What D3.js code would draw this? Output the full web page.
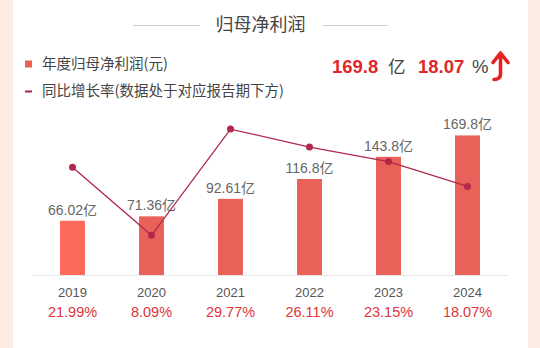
<!DOCTYPE html>
<html><head><meta charset="utf-8">
<script src="https://cdn.jsdelivr.net/npm/d3@7"></script>
<style>
html,body{margin:0;padding:0;background:#fdece3;}
svg{display:block;font-family:"Noto Sans CJK SC","Liberation Sans",sans-serif;}
</style></head>
<body><svg id="c" width="540" height="348"></svg>
<script>
const years = ["2019","2020","2021","2022","2023","2024"];
const profit = [66.02, 71.36, 92.61, 116.8, 143.8, 169.8];
const profitLabels = ["66.02亿","71.36亿","92.61亿","116.8亿","143.8亿","169.8亿"];
const growth = [21.99, 8.09, 29.77, 26.11, 23.15, 18.07];
const growthLabels = ["21.99%","8.09%","29.77%","26.11%","23.15%","18.07%"];

const svg = d3.select("#c");
const LAT = "'Liberation Sans','Noto Sans CJK SC',sans-serif";
svg.append("rect").attr("x",0).attr("y",0).attr("width",540).attr("height",348).attr("fill","#fdece3");
svg.append("rect").attr("x",13).attr("y",0).attr("width",515).attr("height",348).attr("fill","#ffffff");

// title
svg.append("text").attr("x",260.5).attr("y",31).attr("text-anchor","middle")
  .attr("font-size",18).attr("fill","#444").text("归母净利润");
svg.append("line").attr("x1",133).attr("x2",200).attr("y1",25.5).attr("y2",25.5).attr("stroke","#d0d0d0");
svg.append("line").attr("x1",323).attr("x2",388).attr("y1",25.5).attr("y2",25.5).attr("stroke","#d0d0d0");

// legend
svg.append("rect").attr("x",25).attr("y",60.5).attr("width",7).attr("height",7).attr("fill","#eb6252");
svg.append("text").attr("x",42).attr("y",69).attr("font-size",14.5).attr("fill","#444").text("年度归母净利润(元)");
svg.append("line").attr("x1",25).attr("x2",32).attr("y1",91.5).attr("y2",91.5).attr("stroke","#a0284a").attr("stroke-width",2);
svg.append("text").attr("x",42).attr("y",96).attr("font-size",14.5).attr("fill","#444").text("同比增长率(数据处于对应报告期下方)");

// headline
const hl = svg.append("text").attr("y",73).attr("font-size",18.5);
hl.append("tspan").attr("x",332).attr("font-weight","bold").attr("fill","#e0262b").attr("font-family",LAT).text("169.8");
hl.append("tspan").attr("x",388).attr("fill","#444").attr("font-size",17.5).text("亿");
hl.append("tspan").attr("x",418).attr("font-weight","bold").attr("fill","#e0262b").attr("font-family",LAT).text("18.07");
hl.append("tspan").attr("x",472).attr("fill","#444").attr("font-family",LAT).text("%");
// arrow
svg.append("path").attr("d","M500.5,58 L500.5,74 Q500.5,79.5 494,79.5").attr("fill","none").attr("stroke","#e8211f").attr("stroke-width",3.6).attr("stroke-linecap","round");
svg.append("path").attr("d","M493,62.5 L500.5,53 L508,62.5").attr("fill","none").attr("stroke","#e8211f").attr("stroke-width",3.6).attr("stroke-linejoin","round").attr("stroke-linecap","round");
svg.append("path").attr("d","M496,58.5 L500.5,53 L505,58.5 Z").attr("fill","#e8211f");

// scales
const x = d3.scaleBand().domain(years).range([33,507]).paddingInner(0.684).paddingOuter(0.342);
const y = d3.scaleLinear().domain([0,200]).range([275,110.6]);
const y2 = d3.scaleLinear().domain([0,33.55]).range([275,110.6]);
const cx = d => x(d) + x.bandwidth()/2;

// baseline
svg.append("line").attr("x1",32).attr("x2",508).attr("y1",275.5).attr("y2",275.5).attr("stroke","#e6e6e6");

// bars
svg.selectAll("rect.bar").data(years).enter().append("rect").attr("class","bar")
  .attr("x",d=>x(d)).attr("width",x.bandwidth())
  .attr("y",(d,i)=>y(profit[i])).attr("height",(d,i)=>y(0)-y(profit[i]))
  .attr("fill",(d,i)=> i===0 ? "#fd6a5c" : "#e9625a");

// bar labels
svg.selectAll("text.bl").data(years).enter().append("text").attr("class","bl")
  .attr("x",d=>cx(d)).attr("y",(d,i)=>y(profit[i])-6)
  .attr("text-anchor","middle").attr("font-size",14).attr("fill","#666").attr("font-family",LAT)
  .text((d,i)=>profitLabels[i]);

// line
const line = d3.line().x(d=>cx(d)).y((d,i)=>y2(growth[i]));
svg.append("path").datum(years).attr("d",line).attr("fill","none").attr("stroke","#b0284a").attr("stroke-width",1.3);
svg.selectAll("circle.pt").data(years).enter().append("circle").attr("class","pt")
  .attr("cx",d=>cx(d)).attr("cy",(d,i)=>y2(growth[i])).attr("r",3.5).attr("fill","#b0284a");

// x axis labels
svg.selectAll("text.yr").data(years).enter().append("text").attr("class","yr")
  .attr("x",d=>cx(d)).attr("y",296.5).attr("text-anchor","middle")
  .attr("font-size",13).attr("fill","#555").attr("font-family",LAT).text(d=>d);
svg.selectAll("text.gr").data(years).enter().append("text").attr("class","gr")
  .attr("x",d=>cx(d)).attr("y",317).attr("text-anchor","middle")
  .attr("font-size",14.5).attr("fill","#e0353a").attr("font-family",LAT).text((d,i)=>growthLabels[i]);
</script></body></html>
